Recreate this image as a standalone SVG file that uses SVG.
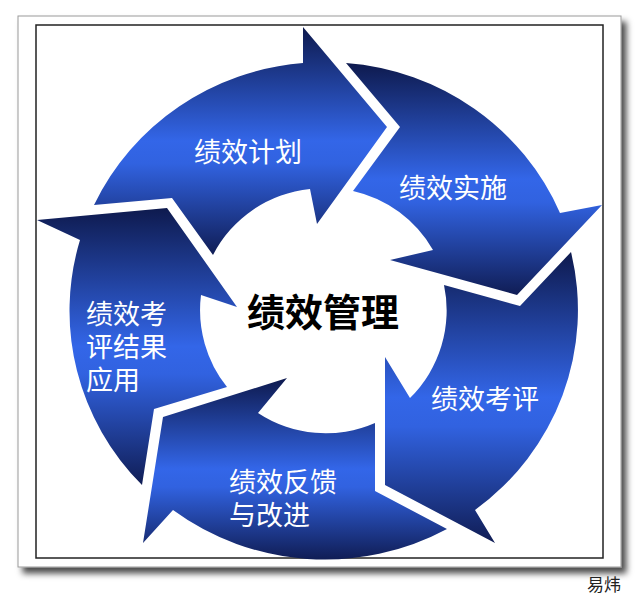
<svg xmlns="http://www.w3.org/2000/svg" width="640" height="600" viewBox="0 0 640 600">
  <defs>
    <linearGradient id="g" x1="0" y1="0" x2="0" y2="1">
      <stop offset="0" stop-color="#0e1a4e"/>
      <stop offset="0.5" stop-color="#3366e8"/>
      <stop offset="0.6" stop-color="#3162e0"/>
      <stop offset="1" stop-color="#101d55"/>
    </linearGradient>
    <filter id="sh" x="-5%" y="-5%" width="115%" height="115%">
      <feDropShadow dx="5" dy="6" stdDeviation="3" flood-color="#000" flood-opacity="0.7"/>
    </filter>
  </defs>
  <style>
    .arrow { fill: url(#g); }
    .lbl { fill: #ffffff; font-family: "Noto Sans CJK SC", "Noto Sans", sans-serif; font-size: 27px; dominant-baseline: central; }
    .title { fill: #000; font-family: "Noto Sans CJK SC", sans-serif; font-size: 38px; font-weight: bold; dominant-baseline: central; text-anchor: middle; }
  </style>
  <rect width="640" height="600" fill="#ffffff"/>
  <g id="frame">
    <rect x="18" y="16" width="603" height="551" fill="#ffffff" stroke="#9a9a9a" stroke-width="1" filter="url(#sh)"/>
    <rect x="36" y="25" width="567" height="533" fill="none" stroke="#222" stroke-width="1.5"/>
  </g>
  <g id="plan">
    <path class="arrow" d="M94,205 L172,198 L213,255 A123,123 0 0 1 310,189 L317,224 L387,127 L303,27 L303,63 A254,249 0 0 0 94,205 Z"/>
    <text class="lbl" x="194" y="150">绩效计划</text>
  </g>
  <g id="implement">
    <path class="arrow" d="M346,63 L400,127 L353,191 A123,123 0 0 1 433,250 L390,260 L517,295 L602,205 L560,213 A254,249 0 0 0 346,63 Z"/>
    <text class="lbl" x="399" y="186">绩效实施</text>
  </g>
  <g id="appraise">
    <path class="arrow" d="M571,252 L520,306 L444,285 A123,123 0 0 1 410,398 L385,357 L385,485 L495,543 L475,510 A254,249 0 0 0 571,252 Z"/>
    <text class="lbl" x="431" y="397">绩效考评</text>
  </g>
  <g id="feedback">
    <path class="arrow" d="M447,529 L375,491 L375,423 A123,123 0 0 1 258,413 L287,378 L163,417 L143,543 L173,510 A254,249 0 0 0 447,529 Z"/>
    <text class="lbl" x="229" y="480">绩效反馈</text>
    <text class="lbl" x="229" y="513">与改进</text>
  </g>
  <g id="apply">
    <path class="arrow" d="M142,485 L154,409 L227,387 A123,123 0 0 1 201,295 L237,307 L167,208 L37,220 L80,240 A254,249 0 0 0 142,485 Z"/>
    <text class="lbl" x="86" y="312">绩效考</text>
    <text class="lbl" x="86" y="345">评结果</text>
    <text class="lbl" x="86" y="378">应用</text>
  </g>
  <g id="center">
    <text class="title" x="323" y="309">绩效管理</text>
  </g>
  <g id="credit">
    <text x="587" y="583" font-family="Noto Sans CJK SC, sans-serif" font-size="17" fill="#222" dominant-baseline="central">易炜</text>
  </g>
</svg>
